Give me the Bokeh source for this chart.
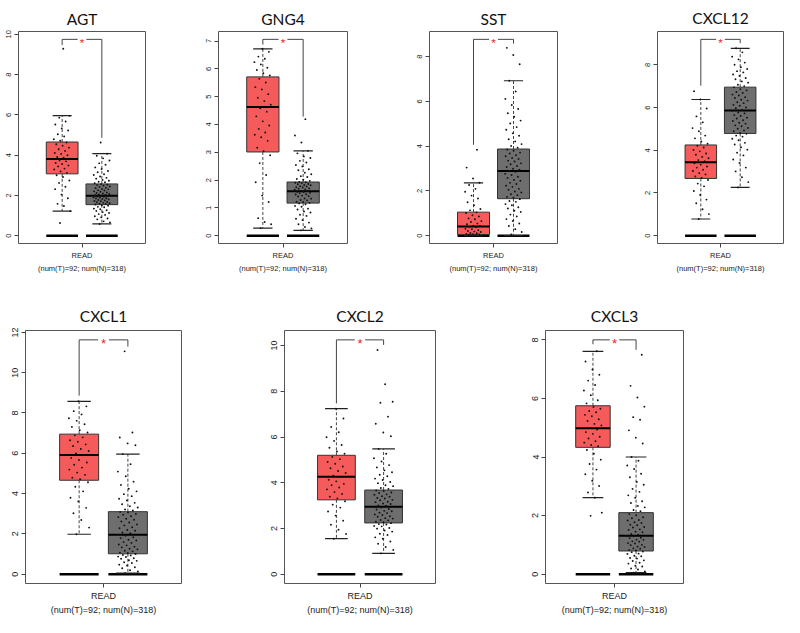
from bokeh.plotting import figure
from bokeh.models import Range1d, FixedTicker
from bokeh.layouts import column, row
from bokeh.core.properties import value
from bokeh.embed import file_html
from bokeh.resources import INLINE

# ---------------- data ----------------
genes = ["AGT", "GNG4", "SST", "CXCL12", "CXCL1", "CXCL2", "CXCL3"]
x_label = "READ"
counts_label = "(num(T)=92; num(N)=318)"

# box stats: [lower whisker, Q1, median, Q3, upper whisker]
agt_tumor_box = [1.22, 3.07, 3.81, 4.65, 5.96]
agt_normal_box = [0.58, 1.54, 1.98, 2.57, 4.07]
gng4_tumor_box = [0.27, 3.01, 4.63, 5.71, 6.72]
gng4_normal_box = [0.19, 1.17, 1.60, 1.93, 3.05]
sst_tumor_box = [0.0, 0.05, 0.41, 1.05, 2.36]
sst_normal_box = [0.0, 1.65, 2.89, 3.87, 6.92]
cxcl12_tumor_box = [0.78, 2.68, 3.44, 4.25, 6.38]
cxcl12_normal_box = [2.26, 4.79, 5.87, 6.96, 8.78]
cxcl1_tumor_box = [1.98, 4.66, 5.92, 6.95, 8.58]
cxcl1_normal_box = [0.05, 1.01, 1.96, 3.10, 5.96]
cxcl2_tumor_box = [1.55, 3.25, 4.26, 5.20, 7.24]
cxcl2_normal_box = [0.91, 2.24, 2.95, 3.68, 5.48]
cxcl3_tumor_box = [2.61, 4.33, 4.98, 5.75, 7.61]
cxcl3_normal_box = [0.05, 0.79, 1.31, 2.10, 4.00]

# significance bracket: [top, tumor leg end, normal leg end]
agt_bracket = [9.75, 9.47, 4.86]
gng4_bracket = [7.06, 6.87, 4.28]
sst_bracket = [8.77, 4.06, 8.58]
cxcl12_bracket = [9.20, 7.03, 9.02]
cxcl1_bracket = [11.63, 8.86, 11.30]
cxcl2_bracket = [10.25, 7.47, 10.03]
cxcl3_bracket = [8.00, 7.85, 7.66]

# y ticks
agt_yticks = [0, 2, 4, 6, 8, 10]
gng4_yticks = [0, 1, 2, 3, 4, 5, 6, 7]
sst_yticks = [0, 2, 4, 6, 8]
cxcl12_yticks = [0, 2, 4, 6, 8]
cxcl1_yticks = [0, 2, 4, 6, 8, 10, 12]
cxcl2_yticks = [0, 2, 4, 6, 8, 10]
cxcl3_yticks = [0, 2, 4, 6, 8]

# sample points (read / estimated from the picture)
agt_tumor_pts = [0.63, 1.22, 1.47, 1.58, 1.86, 2.04, 2.31, 2.43, 2.62, 2.74, 2.91, 3.0,
                 3.12, 3.19, 3.29, 3.33, 3.44, 3.49, 3.56, 3.61, 3.69, 3.73, 3.8, 3.87,
                 3.91, 3.99, 4.06, 4.11, 4.21, 4.29, 4.37, 4.47, 4.54, 4.63, 4.71, 4.79,
                 4.93, 5.04, 5.22, 5.33, 5.52, 5.67, 5.86, 5.95, 9.28]
agt_normal_pts = [0.58, 0.66, 0.71, 0.81, 0.85, 0.91, 0.96, 1.03, 1.07, 1.13, 1.17, 1.23,
                  1.26, 1.31, 1.34, 1.41, 1.43, 1.49, 1.51, 1.55, 1.57, 1.59, 1.61, 1.63,
                  1.66, 1.67, 1.71, 1.72, 1.75, 1.77, 1.8, 1.82, 1.85, 1.86, 1.89, 1.9,
                  1.93, 1.94, 1.97, 1.98, 2.01, 2.02, 2.05, 2.07, 2.09, 2.12, 2.14, 2.18,
                  2.2, 2.24, 2.26, 2.3, 2.32, 2.36, 2.38, 2.42, 2.44, 2.48, 2.51, 2.53,
                  2.56, 2.6, 2.65, 2.68, 2.73, 2.77, 2.83, 2.87, 2.94, 3.01, 3.05, 3.15,
                  3.21, 3.31, 3.39, 3.52, 3.59, 3.73, 3.84, 3.97, 4.07, 4.63]
gng4_tumor_pts = [0.27, 0.41, 0.49, 0.63, 1.21, 1.44, 1.92, 2.18, 2.61, 2.89, 3.04, 3.16,
                  3.41, 3.54, 3.63, 3.71, 3.84, 3.96, 4.11, 4.29, 4.46, 4.58, 4.71, 4.84,
                  4.96, 5.09, 5.26, 5.34, 5.51, 5.64, 5.76, 5.84, 5.96, 6.04, 6.16, 6.24,
                  6.36, 6.44, 6.61, 6.72]
gng4_normal_pts = [0.19, 0.26, 0.31, 0.41, 0.47, 0.56, 0.61, 0.71, 0.75, 0.83, 0.87, 0.94,
                   0.97, 1.04, 1.07, 1.13, 1.16, 1.18, 1.21, 1.22, 1.27, 1.28, 1.33, 1.34,
                   1.41, 1.42, 1.44, 1.48, 1.49, 1.53, 1.54, 1.57, 1.58, 1.6, 1.61, 1.65,
                   1.66, 1.69, 1.7, 1.73, 1.74, 1.77, 1.78, 1.81, 1.82, 1.85, 1.86, 1.89,
                   1.9, 1.92, 1.93, 1.97, 2.01, 2.04, 2.11, 2.14, 2.21, 2.26, 2.35, 2.39,
                   2.49, 2.54, 2.63, 2.69, 2.79, 2.85, 2.96, 3.05, 3.35, 3.6, 4.19]
sst_tumor_pts = [0.0, 0.01, 0.02, 0.04, 0.05, 0.07, 0.08, 0.11, 0.12, 0.16, 0.18, 0.21,
                 0.24, 0.29, 0.31, 0.37, 0.4, 0.43, 0.45, 0.51, 0.54, 0.61, 0.65, 0.73,
                 0.77, 0.86, 0.91, 1.01, 1.04, 1.13, 1.19, 1.36, 1.49, 1.66, 1.79, 1.96,
                 2.09, 2.26, 2.36, 2.55, 3.04, 3.84]
sst_normal_pts = [0.05, 0.16, 0.29, 0.43, 0.54, 0.66, 0.74, 0.86, 0.94, 1.06, 1.11, 1.21,
                  1.27, 1.36, 1.41, 1.51, 1.55, 1.63, 1.69, 1.73, 1.81, 1.85, 1.93, 1.97,
                  2.05, 2.09, 2.18, 2.23, 2.31, 2.36, 2.45, 2.49, 2.58, 2.63, 2.71, 2.76,
                  2.85, 2.89, 2.95, 2.99, 3.07, 3.11, 3.19, 3.23, 3.31, 3.35, 3.43, 3.47,
                  3.55, 3.59, 3.67, 3.71, 3.79, 3.85, 3.93, 4.01, 4.09, 4.21, 4.31, 4.46,
                  4.57, 4.73, 4.85, 5.01, 5.14, 5.31, 5.47, 5.66, 5.84, 6.11, 6.44, 6.92,
                  7.66, 8.07, 8.39]
cxcl12_tumor_pts = [0.78, 1.01, 1.24, 1.52, 1.69, 1.91, 2.09, 2.31, 2.44, 2.61, 2.71, 2.77,
                    2.87, 2.93, 3.03, 3.09, 3.19, 3.24, 3.33, 3.39, 3.49, 3.54, 3.63, 3.69,
                    3.79, 3.85, 3.95, 4.02, 4.13, 4.21, 4.31, 4.41, 4.56, 4.69, 4.89, 5.04,
                    5.31, 5.59, 5.96, 6.38, 6.77]
cxcl12_normal_pts = [2.26, 2.51, 2.74, 3.01, 3.19, 3.41, 3.57, 3.76, 3.89, 4.03, 4.14, 4.27,
                     4.35, 4.47, 4.54, 4.64, 4.69, 4.77, 4.81, 4.89, 4.93, 5.01, 5.05, 5.13,
                     5.17, 5.25, 5.29, 5.37, 5.41, 5.49, 5.53, 5.61, 5.65, 5.73, 5.77, 5.85,
                     5.89, 5.97, 6.01, 6.09, 6.13, 6.21, 6.25, 6.33, 6.37, 6.45, 6.49, 6.57,
                     6.61, 6.69, 6.73, 6.81, 6.86, 6.95, 7.01, 7.07, 7.17, 7.23, 7.33, 7.39,
                     7.49, 7.55, 7.65, 7.71, 7.81, 7.89, 8.01, 8.11, 8.26, 8.39, 8.59, 8.78]
cxcl1_tumor_pts = [1.98, 2.31, 2.69, 3.02, 3.29, 3.61, 3.79, 4.11, 4.34, 4.56, 4.71, 4.79,
                   4.93, 5.04, 5.19, 5.29, 5.43, 5.54, 5.67, 5.77, 5.91, 5.99, 6.11, 6.21,
                   6.36, 6.44, 6.57, 6.65, 6.79, 6.89, 7.03, 7.14, 7.31, 7.44, 7.61, 7.74,
                   7.93, 8.09, 8.33, 8.58]
cxcl1_normal_pts = [0.05, 0.13, 0.19, 0.29, 0.34, 0.43, 0.47, 0.55, 0.59, 0.66, 0.69, 0.76,
                    0.79, 0.85, 0.87, 0.93, 0.95, 1.0, 1.05, 1.07, 1.13, 1.16, 1.23, 1.26,
                    1.33, 1.36, 1.43, 1.47, 1.55, 1.59, 1.67, 1.71, 1.79, 1.83, 1.91, 1.95,
                    2.03, 2.07, 2.15, 2.19, 2.28, 2.33, 2.42, 2.47, 2.56, 2.61, 2.7, 2.75,
                    2.83, 2.87, 2.95, 2.99, 3.06, 3.09, 3.16, 3.21, 3.31, 3.37, 3.47, 3.54,
                    3.66, 3.74, 3.87, 3.97, 4.11, 4.24, 4.43, 4.59, 4.86, 5.09, 5.46, 5.96,
                    6.4, 6.49, 6.78, 7.03, 11.06]
cxcl2_tumor_pts = [1.55, 1.76, 1.94, 2.16, 2.34, 2.56, 2.74, 2.91, 3.04, 3.19, 3.31, 3.39,
                   3.51, 3.59, 3.71, 3.79, 3.89, 3.95, 4.06, 4.13, 4.25, 4.31, 4.43, 4.51,
                   4.63, 4.71, 4.83, 4.91, 5.03, 5.13, 5.27, 5.37, 5.53, 5.65, 5.83, 5.99,
                   6.21, 6.44, 6.81, 7.24]
cxcl2_normal_pts = [0.91, 1.06, 1.19, 1.33, 1.43, 1.55, 1.61, 1.71, 1.77, 1.86, 1.91, 1.99,
                    2.02, 2.09, 2.11, 2.17, 2.19, 2.23, 2.27, 2.29, 2.35, 2.37, 2.43, 2.45,
                    2.51, 2.53, 2.59, 2.61, 2.67, 2.69, 2.75, 2.77, 2.83, 2.85, 2.91, 2.93,
                    2.99, 3.01, 3.07, 3.09, 3.15, 3.17, 3.23, 3.25, 3.31, 3.33, 3.39, 3.41,
                    3.47, 3.49, 3.55, 3.57, 3.63, 3.66, 3.73, 3.77, 3.85, 3.89, 3.98, 4.03,
                    4.12, 4.18, 4.28, 4.35, 4.46, 4.54, 4.67, 4.77, 4.93, 5.07, 5.27, 5.48,
                    6.03, 6.2, 6.58, 6.89, 7.5, 7.54, 8.31, 9.81]
cxcl3_tumor_pts = [1.99, 2.1, 2.61, 2.79, 3.01, 3.19, 3.41, 3.57, 3.76, 3.91, 4.11, 4.24,
                   4.37, 4.41, 4.49, 4.54, 4.63, 4.69, 4.79, 4.85, 4.94, 4.99, 5.08, 5.13,
                   5.23, 5.29, 5.39, 5.44, 5.53, 5.57, 5.65, 5.71, 5.83, 5.94, 6.11, 6.27,
                   6.46, 6.61, 6.81, 6.99, 7.26, 7.61]
cxcl3_normal_pts = [0.05, 0.09, 0.16, 0.19, 0.26, 0.29, 0.36, 0.39, 0.45, 0.47, 0.53, 0.55,
                    0.61, 0.63, 0.69, 0.7, 0.75, 0.77, 0.81, 0.82, 0.87, 0.88, 0.93, 0.94,
                    0.99, 1.0, 1.05, 1.06, 1.11, 1.12, 1.17, 1.18, 1.23, 1.24, 1.29, 1.3,
                    1.35, 1.37, 1.43, 1.45, 1.51, 1.53, 1.59, 1.61, 1.67, 1.69, 1.75, 1.77,
                    1.83, 1.85, 1.91, 1.94, 2.01, 2.05, 2.15, 2.19, 2.28, 2.33, 2.43, 2.49,
                    2.61, 2.69, 2.81, 2.91, 3.05, 3.15, 3.31, 3.43, 3.59, 3.71, 3.87, 4.0,
                    4.46, 4.66, 4.91, 5.27, 5.36, 5.72, 6.03, 6.43, 7.49]

panels_data = [
    (agt_tumor_box, agt_normal_box, agt_tumor_pts, agt_normal_pts, agt_bracket, agt_yticks),
    (gng4_tumor_box, gng4_normal_box, gng4_tumor_pts, gng4_normal_pts, gng4_bracket, gng4_yticks),
    (sst_tumor_box, sst_normal_box, sst_tumor_pts, sst_normal_pts, sst_bracket, sst_yticks),
    (cxcl12_tumor_box, cxcl12_normal_box, cxcl12_tumor_pts, cxcl12_normal_pts, cxcl12_bracket, cxcl12_yticks),
    (cxcl1_tumor_box, cxcl1_normal_box, cxcl1_tumor_pts, cxcl1_normal_pts, cxcl1_bracket, cxcl1_yticks),
    (cxcl2_tumor_box, cxcl2_normal_box, cxcl2_tumor_pts, cxcl2_normal_pts, cxcl2_bracket, cxcl2_yticks),
    (cxcl3_tumor_box, cxcl3_normal_box, cxcl3_tumor_pts, cxcl3_normal_pts, cxcl3_bracket, cxcl3_yticks),
]

# ---------------- layout / style ----------------
# (width, left, right, top, bottom, height, small font px, title standoff)
layout_specs = [
    (182, 18, 37, 28, 33, 276, 7.5, 7),
    (215, 36, 50, 28, 33, 276, 7.5, 7),
    (225, 32, 65, 28, 33, 276, 7.5, 7),
    (162, 35, 1, 31, 28, 276, 7.5, 9),
    (242, 25, 61, 54, 31, 341, 9, 11),
    (270, 42, 77, 54, 31, 341, 9, 11),
    (272, 33, 101, 54, 31, 341, 9, 11),
]

TUMOR_COLOR = "#F65B5B"
NORMAL_COLOR = "#6E6E6E"
EDGE = "#333333"
TITLE_FONT = "Lato"
SMALL_FONT = "Liberation Sans"
POS = [1, 2]
HALF_W = 0.4
CAP_W = 0.24
JIT = 0.42


def jitter(n, center):
    return [center + (((i * 0.61803398875 + 0.37) % 1.0) - 0.5) * JIT for i in range(n)]


def make_panel(gene, data, spec):
    tbox, nbox, tpts, npts, bracket, yticks = data
    width, bl, br, bt, bb, height, fs, standoff = spec
    top = bracket[0]
    p = figure(width=width, height=height, output_backend="svg", toolbar_location=None,
               x_range=Range1d(-0.1, 3.1), y_range=Range1d(-0.04 * top, 1.04 * top),
               min_border_left=bl, min_border_right=br, min_border_top=bt, min_border_bottom=bb,
               title=gene)
    p.title.align = "center"
    p.title.text_font = TITLE_FONT
    p.title.text_font_size = "15.5px"
    p.title.text_font_style = "normal"
    p.title.text_color = "#111111"
    p.title.standoff = standoff
    p.xgrid.visible = False
    p.ygrid.visible = False
    p.outline_line_color = "#555555"
    p.outline_line_width = 1
    p.background_fill_color = "white"
    p.border_fill_color = "white"

    fs_s = f"{fs}px"
    # y axis
    ya = p.yaxis[0]
    ya.ticker = FixedTicker(ticks=yticks)
    ya.major_label_orientation = "vertical"
    ya.major_label_text_font = SMALL_FONT
    ya.major_label_text_font_size = fs_s
    ya.major_label_text_color = "#222222"
    ya.major_tick_out = 4
    ya.major_tick_in = 0
    ya.minor_tick_out = 0
    ya.minor_tick_in = 0
    ya.axis_line_color = None
    ya.major_tick_line_color = "#444444"
    ya.major_label_standoff = 3
    # x axis
    xa = p.xaxis[0]
    xa.ticker = FixedTicker(ticks=[1.5])
    xa.major_label_overrides = {1.5: x_label}
    xa.axis_label = counts_label
    xa.axis_label_text_font = SMALL_FONT
    xa.axis_label_text_font_size = fs_s
    xa.axis_label_text_font_style = "normal"
    xa.axis_label_text_color = "#222222"
    xa.axis_label_standoff = 1
    xa.major_label_text_font = SMALL_FONT
    xa.major_label_text_font_size = fs_s
    xa.major_label_text_color = "#222222"
    xa.major_label_standoff = 3
    xa.major_tick_out = 4
    xa.major_tick_in = 0
    xa.minor_tick_out = 0
    xa.minor_tick_in = 0
    xa.axis_line_color = None
    xa.major_tick_line_color = "#444444"

    boxes = [tbox, nbox]
    colors = [TUMOR_COLOR, NORMAL_COLOR]
    # zero baseline bars
    p.segment(x0=[x - HALF_W for x in POS], y0=[0, 0], x1=[x + HALF_W for x in POS], y1=[0, 0],
              line_color="black", line_width=2.5)
    # whiskers
    for x, b in zip(POS, boxes):
        p.segment(x0=[x, x], y0=[b[3], b[1]], x1=[x, x], y1=[b[4], b[0]],
                  line_color="#444444", line_width=1, line_dash="3 2")
        p.segment(x0=[x - CAP_W, x - CAP_W], y0=[b[4], b[0]], x1=[x + CAP_W, x + CAP_W], y1=[b[4], b[0]],
                  line_color="#222222", line_width=1.2)
    # boxes
    p.quad(left=[x - HALF_W for x in POS], right=[x + HALF_W for x in POS],
           bottom=[b[1] for b in boxes], top=[b[3] for b in boxes],
           fill_color=colors, line_color=EDGE, line_width=1)
    p.segment(x0=[x - HALF_W for x in POS], y0=[b[2] for b in boxes],
              x1=[x + HALF_W for x in POS], y1=[b[2] for b in boxes],
              line_color="black", line_width=2.0)
    # points
    p.scatter(x=jitter(len(tpts), POS[0]), y=tpts, size=1.9, color="#111111", line_width=0)
    p.scatter(x=jitter(len(npts), POS[1]), y=npts, size=1.9, color="#111111", line_width=0)
    # bracket
    gap = 0.11
    p.segment(x0=[POS[0], POS[1], POS[0], 1.5 + gap],
              y0=[bracket[1], bracket[2], top, top],
              x1=[POS[0], POS[1], 1.5 - gap, POS[1]],
              y1=[top, top, top, top],
              line_color="#444444", line_width=1)
    p.text(x=[1.5], y=[top], text=["*"], text_color="#E8262B", text_align="center",
           text_baseline="middle", text_font=value(SMALL_FONT), text_font_size=f"{fs + 4}px",
           y_offset=4)
    return p


plots = [make_panel(g, d, s) for g, d, s in zip(genes, panels_data, layout_specs)]
layout = column(row(*plots[:4]), row(*plots[4:]))

open("out.html", "w").write(file_html(layout, INLINE))
